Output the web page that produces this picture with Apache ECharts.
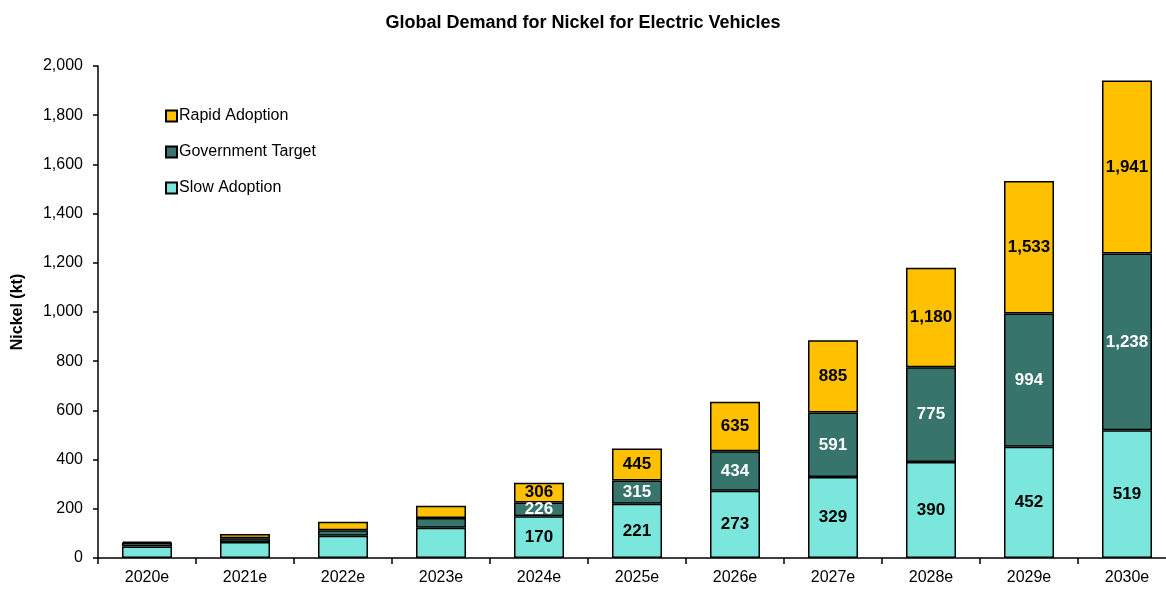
<!DOCTYPE html>
<html>
<head>
<meta charset="utf-8">
<script src="https://cdn.jsdelivr.net/npm/echarts@6/dist/echarts.min.js"></script>
<style>
  html, body { margin: 0; padding: 0; background: #fff; }
  #chart { width: 1166px; height: 589px; }
</style>
</head>
<body>
<div id="chart"></div>
<script>
const years = ['2020e', '2021e', '2022e', '2023e', '2024e', '2025e', '2026e', '2027e', '2028e', '2029e', '2030e'];
// cumulative totals (kt)
const slowAdoption = [47, 65, 90, 123, 170, 221, 273, 329, 390, 452, 519];
const governmentTarget = [62, 80, 113, 163, 226, 315, 434, 591, 775, 994, 1238];
const rapidAdoption = [67, 98, 147, 212, 306, 445, 635, 885, 1180, 1533, 1941];

const font = 'Liberation Sans, Arial, sans-serif';
const chart = echarts.init(document.getElementById('chart'));

// bars are drawn as a stack of the differences, labels show the totals
function diff(upper, lower) {
  return upper.map((v, i) => v - lower[i]);
}

function labelFor(totals, color) {
  return {
    show: true,
    position: 'inside',
    color: color,
    fontFamily: font,
    fontWeight: 'bold',
    fontSize: 17,
    formatter: function (p) {
      if (p.dataIndex < 4) return '';
      return totals[p.dataIndex].toLocaleString('en-US');
    }
  };
}

const border = { borderColor: '#000', borderWidth: 1.5 };

chart.setOption({
  animation: false,
  title: {
    text: 'Global Demand for Nickel for Electric Vehicles',
    left: 'center',
    top: 9,
    textStyle: { fontFamily: font, fontWeight: 'bold', fontSize: 18, color: '#000' }
  },
  legend: {
    data: ['Rapid Adoption', 'Government Target', 'Slow Adoption'],
    orient: 'vertical',
    left: 160,
    top: 103,
    itemWidth: 11,
    itemHeight: 11,
    itemGap: 20,
    icon: 'rect',
    textStyle: { fontFamily: font, fontSize: 16, color: '#000', padding: [0, 0, 0, -3] }
  },
  grid: { left: 98, top: 66, width: 1078, height: 492, outerBoundsMode: 'none' },
  xAxis: {
    type: 'category',
    data: years,
    axisLine: { lineStyle: { color: '#000', width: 1.5 } },
    axisTick: { show: true, length: 6, lineStyle: { color: '#000', width: 1.5 } },
    axisLabel: { fontFamily: font, fontSize: 16, color: '#000', margin: 12 }
  },
  yAxis: {
    type: 'value',
    min: 0,
    max: 2000,
    interval: 200,
    name: 'Nickel (kt)',
    nameLocation: 'middle',
    nameRotate: 90,
    nameGap: 72,
    nameTextStyle: { fontFamily: font, fontWeight: 'bold', fontSize: 16, color: '#000' },
    axisLine: { show: true, lineStyle: { color: '#000', width: 1.5 } },
    axisTick: { show: true, length: 5, lineStyle: { color: '#000', width: 1.5 } },
    splitLine: { show: false },
    axisLabel: {
      fontFamily: font, fontSize: 16, color: '#000', margin: 15,
      formatter: v => v.toLocaleString('en-US')
    }
  },
  series: [
    {
      name: 'Slow Adoption',
      type: 'bar',
      stack: 'total',
      barWidth: 50,
      data: slowAdoption,
      itemStyle: Object.assign({ color: '#7AE6DC' }, border),
      label: labelFor(slowAdoption, '#000')
    },
    {
      name: 'Government Target',
      type: 'bar',
      stack: 'total',
      data: diff(governmentTarget, slowAdoption),
      itemStyle: Object.assign({ color: '#37746B' }, border),
      label: labelFor(governmentTarget, '#fff')
    },
    {
      name: 'Rapid Adoption',
      type: 'bar',
      stack: 'total',
      data: diff(rapidAdoption, governmentTarget),
      itemStyle: Object.assign({ color: '#FFC000' }, border),
      label: labelFor(rapidAdoption, '#000')
    }
  ]
});
</script>
</body>
</html>
